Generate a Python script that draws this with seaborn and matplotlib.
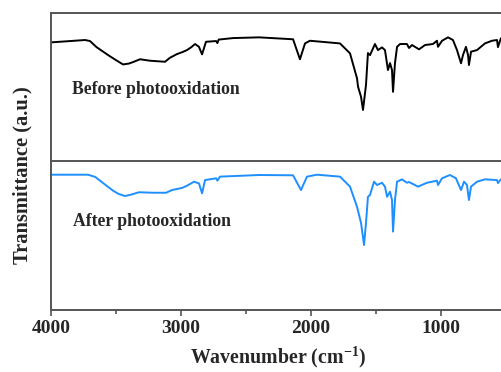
import numpy as np
import pandas as pd
import matplotlib
matplotlib.use("Agg")
import matplotlib.pyplot as plt
import seaborn as sns
from matplotlib.ticker import MultipleLocator

# Before photooxidation (black)
wn_before = [4000, 3738, 3700, 3650, 3550, 3500, 3446, 3400, 3360, 3315, 3238, 3123, 3085, 3031,
             2990, 2954, 2920, 2892, 2862, 2838, 2808,
             2730, 2720, 2710, 2600, 2400, 2138, 2085, 2046, 2008, 1777, 1700, 1646, 1638, 1615,
             1600, 1577, 1562, 1546, 1508, 1485, 1454, 1431, 1408, 1392, 1377, 1369, 1354, 1338,
             1315, 1262, 1246, 1223, 1169, 1123, 1062, 1031, 1023, 992, 946, 908, 877, 846, 831,
             808, 792, 785, 769, 723, 662, 608, 569, 562, 539, 500]
t_before = [80.2, 81.8, 81.1, 77.0, 71.0, 68.2, 65.3, 65.9, 67.2, 68.8, 67.8, 67.1, 69.8, 72.3,
            73.6, 75.0, 77.0, 79.1, 77.2, 72.1, 80.6,
            81.1, 79.7, 82.1, 83.1, 83.6, 82.3, 68.8, 79.5, 81.3, 79.5, 72.8, 55.9, 50.2, 43.4,
            34.5, 51.4, 73.0, 71.6, 79.1, 75.0, 76.8, 75.0, 61.5, 66.2, 61.5, 46.8, 66.2, 77.2,
            79.1, 79.1, 76.4, 78.4, 75.5, 78.4, 79.1, 81.3, 77.2, 81.3, 83.6, 81.8, 75.0, 66.1, 71.6,
            77.2, 71.6, 64.9, 73.9, 75.0, 79.5, 81.3, 81.8, 77.0, 83.0, 83.1]

# After photooxidation (blue)
wn_after = [4000, 3715, 3660, 3623, 3580, 3523, 3480, 3431, 3380, 3330, 3315, 3215, 3115, 3069,
            2990, 2954, 2900, 2862, 2838, 2815,
            2730, 2720, 2700, 2400, 2138, 2077, 2031, 1954, 1777, 1700, 1646, 1615, 1592, 1577,
            1562, 1546, 1515, 1492, 1454, 1431, 1415, 1392, 1377, 1369, 1354, 1338, 1300, 1262,
            1246, 1177, 1108, 1031, 1023, 992, 931, 885, 846, 823, 800, 785, 769, 723, 662, 569,
            562, 539, 500]
t_after = [90.8, 90.8, 89.3, 86.8, 83.9, 80.1, 77.9, 76.5, 77.5, 78.9, 79.0, 78.7, 78.7, 80.5,
           82.0, 83.4, 86.1, 85.0, 78.3, 87.2,
           88.4, 86.8, 89.5, 90.6, 90.4, 80.5, 89.5, 90.8, 89.5, 82.8, 69.3, 58.4, 43.6, 58.4,
           76.0, 77.2, 86.1, 83.9, 85.4, 82.8, 76.0, 79.4, 73.8, 52.6, 73.8, 86.1, 87.7, 85.4,
           85.9, 82.8, 85.4, 86.8, 83.9, 88.4, 90.6, 88.4, 80.5, 86.1, 83.9, 73.8, 82.8, 86.1, 87.7, 87.2,
           85.2, 87.7, 87.9]

label_before = "Before photooxidation"
label_after = "After photooxidation"
xticks = [4000, 3000, 2000, 1000]

sns.set_theme(style="white")
plt.rcParams['font.family'] = ['Liberation Serif', 'DejaVu Serif']
plt.rcParams['font.weight'] = 'bold'
plt.rcParams['mathtext.fontset'] = 'custom'
plt.rcParams['mathtext.rm'] = 'Liberation Serif:bold'
plt.rcParams['mathtext.bf'] = 'Liberation Serif:bold'

fig = plt.figure(figsize=(5.01, 3.72), dpi=100)
ax1 = fig.add_axes([51/501, 0.567, 455/501, 148/372])
ax2 = fig.add_axes([51/501, 62/372, 455/501, 149/372])

df_b = pd.DataFrame({"wn": wn_before, "T": t_before})
df_a = pd.DataFrame({"wn": wn_after, "T": t_after})

sns.lineplot(data=df_b, x="wn", y="T", ax=ax1, color="black", linewidth=1.4, sort=False, estimator=None)
sns.lineplot(data=df_a, x="wn", y="T", ax=ax2, color="#1E8FFF", linewidth=1.4, sort=False, estimator=None)

spine_col = "#555555"
for ax in (ax1, ax2):
    ax.set_xlim(4000, 500)
    ax.set_ylim(0, 100)
    ax.set_yticks([])
    ax.set_ylabel("")
    ax.set_xlabel("")
    for s in ax.spines.values():
        s.set_color(spine_col)
        s.set_linewidth(1.4)
    ax.xaxis.set_major_locator(MultipleLocator(1000))
    ax.xaxis.set_minor_locator(MultipleLocator(500))

ax1.tick_params(axis='x', which='both', bottom=False, labelbottom=False)
ax1.spines['bottom'].set_visible(False)
ax2.tick_params(axis='x', which='major', bottom=True, direction='out', length=4, width=1.2,
                color=spine_col, labelsize=14, pad=3)
ax2.tick_params(axis='x', which='minor', bottom=True, direction='out', length=3, width=1.2,
                color=spine_col)
ax2.set_xticks(xticks)
ax2.set_xticklabels([str(v) for v in xticks], fontweight='bold')

ax1.text(3838, 48.6, label_before, ha='left', va='center', fontsize=12.7, fontweight='bold')
ax2.text(3831, 59.7, label_after, ha='left', va='center', fontsize=12.7, fontweight='bold')

fig.text(278/501, 1 - 357/372, r"Wavenumber (cm$^{\mathbf{-1}}$)", ha='center', va='center',
         fontsize=14.3, fontweight='bold')
fig.text(22/501, 1 - 175/372, "Transmittance (a.u.)", ha='center', va='center', rotation=90,
         fontsize=14.8, fontweight='bold')

fig.savefig("out.png", dpi=100)
